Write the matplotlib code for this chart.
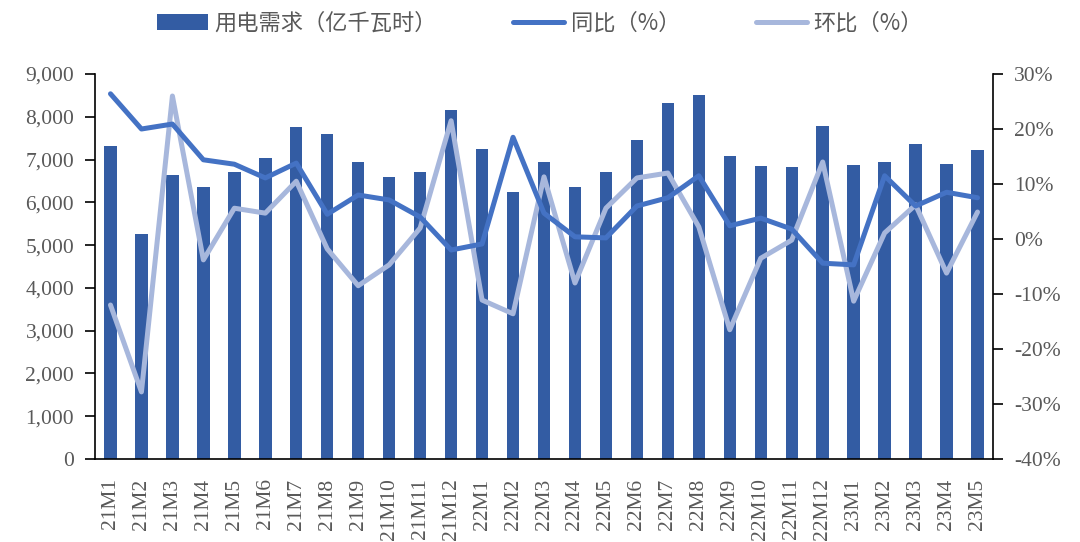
import matplotlib
matplotlib.use("Agg")
import matplotlib.pyplot as plt
import numpy as np
from matplotlib.ticker import FuncFormatter, MultipleLocator

months = ["21M1","21M2","21M3","21M4","21M5","21M6","21M7","21M8","21M9","21M10","21M11","21M12",
          "22M1","22M2","22M3","22M4","22M5","22M6","22M7","22M8","22M9","22M10","22M11","22M12",
          "23M1","23M2","23M3","23M4","23M5"]
demand = [7320, 5260, 6630, 6360, 6720, 7030, 7760, 7600, 6950, 6600, 6710, 8160,
          7240, 6240, 6940, 6360, 6720, 7450, 8320, 8520, 7090, 6840, 6830, 7790,
          6880, 6950, 7370, 6900, 7220]
yoy = [26.4, 20.0, 20.9, 14.4, 13.6, 11.1, 13.8, 4.5, 8.0, 7.1, 4.0, -2.0,
       -0.9, 18.5, 4.7, 0.4, 0.2, 6.0, 7.5, 11.5, 2.4, 3.8, 1.8, -4.4,
       -4.7, 11.5, 6.0, 8.5, 7.5]
mom = [-12.0, -27.8, 26.0, -3.8, 5.6, 4.7, 10.5, -1.8, -8.5, -4.7, 2.0, 21.5,
       -11.1, -13.6, 11.3, -8.0, 5.6, 11.1, 12.0, 2.2, -16.5, -3.5, -0.2, 14.0,
       -11.3, 1.1, 6.2, -6.2, 4.9]

serif = ["Liberation Serif", "DejaVu Serif"]
cjk = ["Noto Sans CJK SC", "DejaVu Sans"]
grey = "#595959"

fig = plt.figure(figsize=(10.8, 5.42), dpi=100)
ax = fig.add_axes([95/1080, 1-459/542, (993-95)/1080, (459-74)/542])
ax2 = ax.twinx()

x = np.arange(len(months))
b = ax.bar(x, demand, width=0.4, color="#335CA3", zorder=1, label="用电需求（亿千瓦时）")
l1, = ax2.plot(x, yoy, color="#4472C4", lw=3.6, solid_joinstyle="round", solid_capstyle="round", label="同比（%）", zorder=3)
l2, = ax2.plot(x, mom, color="#A7B7DC", lw=3.6, solid_joinstyle="round", solid_capstyle="round", label="环比（%）", zorder=2)

ax.set_xlim(-0.5, len(months)-0.5)
ax.set_ylim(0, 9000)
ax.yaxis.set_major_locator(MultipleLocator(1000))
ax.yaxis.set_major_formatter(FuncFormatter(lambda v, p: f"{int(v):,}"))
ax2.set_ylim(-40, 30)
ax2.yaxis.set_major_locator(MultipleLocator(10))
ax2.yaxis.set_major_formatter(FuncFormatter(lambda v, p: f"{int(round(v))}%"))

for a in (ax, ax2):
    a.spines["top"].set_visible(False)
    for s in a.spines.values():
        s.set_color("black")
        s.set_linewidth(1.2)
ax.spines["right"].set_visible(False)
ax2.spines["left"].set_visible(False)
ax2.spines["bottom"].set_visible(False)

ax.set_xticks(x)
ax.set_xticklabels(months, rotation=90, va="top", ha="center")
ax.tick_params(axis="x", length=0, pad=14)
ax.tick_params(axis="y", direction="out", length=7, width=1.2, pad=8)
ax2.tick_params(axis="y", direction="out", length=7, width=1.2, pad=8)
for lab in ax.get_xticklabels() + ax.get_yticklabels() + ax2.get_yticklabels():
    lab.set_fontfamily(serif)
    lab.set_fontsize(15.5)
    lab.set_color(grey)

leg = fig.legend(handles=[b, l1, l2], loc="upper center", bbox_to_anchor=(0.5, 1.015), ncol=3,
                 frameon=False, prop={"family": cjk, "size": 16}, handlelength=2.3,
                 columnspacing=3.4, handletextpad=0.3)
for t in leg.get_texts():
    t.set_color(grey)

fig.savefig("out.png", dpi=100)
